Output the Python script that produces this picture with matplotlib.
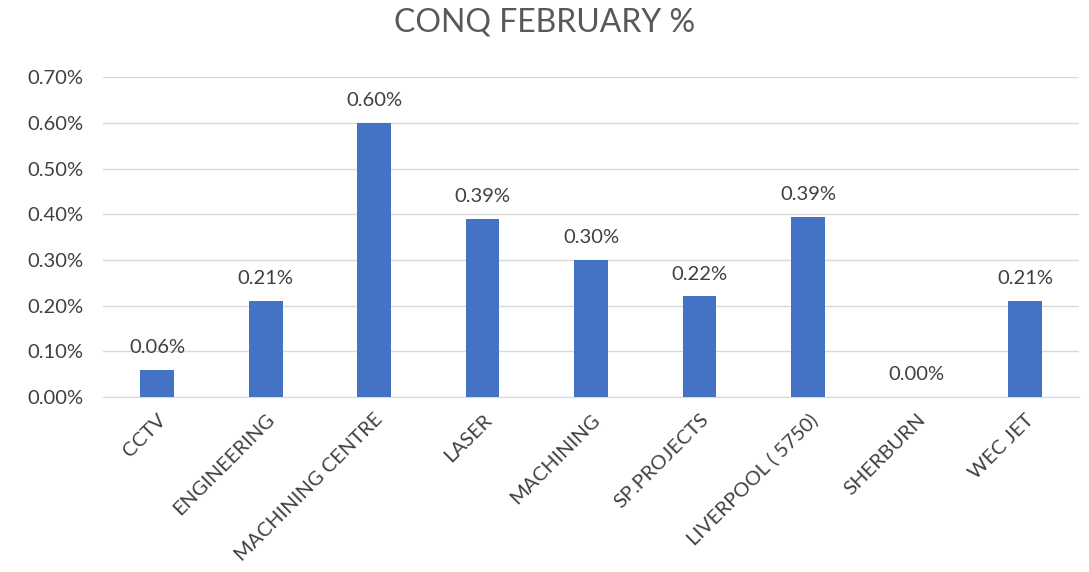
import matplotlib
matplotlib.use("Agg")
import matplotlib.pyplot as plt
from matplotlib.ticker import FuncFormatter

plt.rcParams['font.family'] = ['Lato', 'DejaVu Sans']

categories = ["CCTV", "ENGINEERING", "MACHINING CENTRE", "LASER", "MACHINING",
              "SP.PROJECTS", "LIVERPOOL ( 5750)", "SHERBURN", "WEC JET"]
values = [0.06, 0.21, 0.60, 0.39, 0.30, 0.22, 0.394, 0.00, 0.21]  # percent
yticks = [0.0, 0.1, 0.2, 0.3, 0.4, 0.5, 0.6, 0.7]

fig = plt.figure(figsize=(10.89, 5.72), dpi=100)
ax = fig.add_axes([0.0946, 0.306, 0.8964, 0.559])

x = range(len(categories))
ax.bar(x, values, width=0.31, color="#4472C4", zorder=3)

for xi, v in zip(x, values):
    ax.text(xi, v + 0.03, f"{v:.2f}%", ha="center", va="bottom",
            fontsize=14.5, color="#404040")

ax.set_xlim(-0.5, len(categories) - 0.5)
ax.set_ylim(0, 0.7)
ax.set_yticks(yticks)
ax.yaxis.set_major_formatter(FuncFormatter(lambda v, p: f"{v:.2f}%"))
ax.grid(axis="y", color="#D9D9D9", linewidth=1, zorder=0)

ax.set_xticks(list(x))
ax.set_xticklabels(categories, rotation=45, ha="right", rotation_mode="anchor",
                   fontsize=14.5, color="#404040")
ax.tick_params(axis="y", labelsize=14.5, labelcolor="#404040", length=0, pad=14)
ax.tick_params(axis="x", length=0, pad=10)

for s in ["top", "right", "left"]:
    ax.spines[s].set_visible(False)
ax.spines["bottom"].set_color("#D9D9D9")

fig.text(0.5, 0.96, "CONQ FEBRUARY %", ha="center", va="center",
         fontsize=23, color="#595959")

fig.savefig("out.png", dpi=100)
